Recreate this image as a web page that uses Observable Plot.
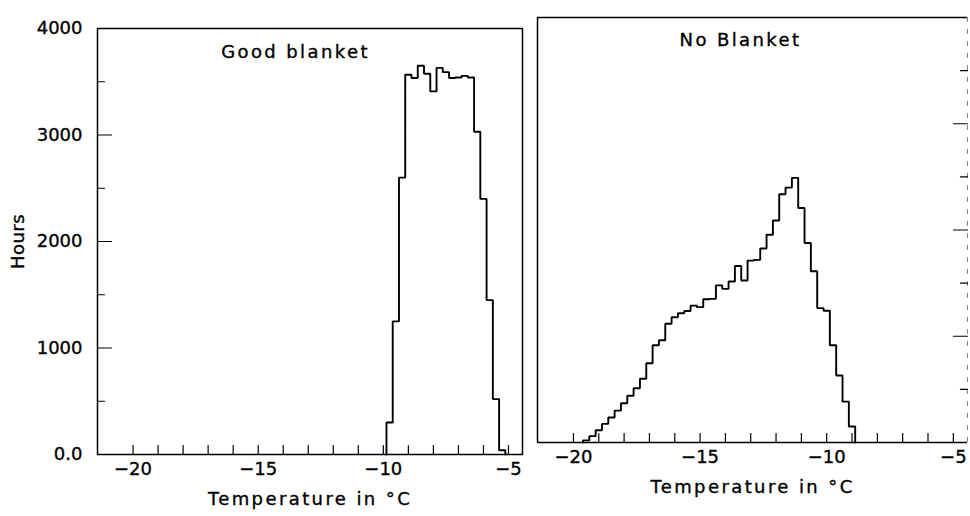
<!DOCTYPE html>
<html>
<head>
<meta charset="utf-8">
<script src="https://cdn.jsdelivr.net/npm/d3@7"></script>
<script src="https://cdn.jsdelivr.net/npm/@observablehq/plot@0.6"></script>
<style>
  html, body { margin: 0; padding: 0; background: #fff; }
  #wrap { position: relative; width: 970px; height: 516px; overflow: hidden; background: #fff; }
  #left, #right { position: absolute; top: 0; }
  #left { left: 0; }
  #right { left: 530px; }
</style>
</head>
<body>
<div id="wrap"><div id="left"></div><div id="right"></div></div>
<script>
// ---- data (bin centres in °C, bin width 0.25 °C, hours per bin) ----
const binWidth = 0.25;

const goodTitle = "Good blanket";
const goodCenters = [-9.75, -9.5, -9.25, -9.0, -8.75, -8.5, -8.25, -8.0, -7.75, -7.5,
                     -7.25, -7.0, -6.75, -6.5, -6.25, -6.0, -5.75, -5.5, -5.25];
const goodHours   = [300, 1250, 2600, 3566, 3535, 3650, 3575, 3410, 3630, 3590,
                     3535, 3540, 3555, 3540, 3030, 2400, 1450, 520, 40];

const noTitle = "No Blanket";
const noCenters = [-19.5, -19.25, -19.0, -18.75, -18.5, -18.25, -18.0, -17.75, -17.5, -17.25,
                   -17.0, -16.75, -16.5, -16.25, -16.0, -15.75, -15.5, -15.25, -15.0, -14.75,
                   -14.5, -14.25, -14.0, -13.75, -13.5, -13.25, -13.0, -12.75, -12.5, -12.25,
                   -12.0, -11.75, -11.5, -11.25, -11.0, -10.75, -10.5, -10.25, -10.0, -9.75,
                   -9.5, -9.25, -9.0];
const noHours   = [20, 60, 115, 175, 235, 300, 370, 440, 510, 600,
                   746, 916, 963, 1117, 1179, 1217, 1237, 1288, 1274, 1348,
                   1352, 1479, 1446, 1515, 1661, 1525, 1712, 1719, 1826, 1956,
                   2089, 2337, 2399, 2491, 2207, 1877, 1612, 1265, 1240, 915,
                   630, 385, 150];

const xTickMarks  = [-20, -19, -18, -17, -16, -15, -14, -13, -12, -11, -10, -9, -8, -7, -6, -5];
const xTickValues = [-20, -15, -10, -5];
const xTickLabels = ["\u221220", "\u221215", "\u221210", "\u22125"];
const yMajorTicks = [0, 1000, 2000, 3000, 4000];
const yMinorTicks = [500, 1500, 2500, 3500];
const yTickLabels = ["0.0", "1000", "2000", "3000", "4000"];
const xTitle = "Temperature in \u00B0C";
const yTitle = "Hours";

const xDomain = [-21.42, -4.44];
const yDomain = [0, 4000];

// ---- helpers ----
const FONT = "DejaVu Sans";
const TXT = {fontSize: 18, fill: "black", stroke: "black", strokeWidth: 0.35};
const tickShape = { draw(ctx, l) { ctx.moveTo(0, 0); ctx.lineTo(0, -l); } };

function stepOutline(centers, hours) {
  const pts = [{x: centers[0] - binWidth / 2, y: 0}];
  centers.forEach((c, i) => {
    pts.push({x: c - binWidth / 2, y: hours[i]});
    pts.push({x: c + binWidth / 2, y: hours[i]});
  });
  pts.push({x: centers[centers.length - 1] + binWidth / 2, y: 0});
  return pts;
}

function panel({centers, hours, title, titleDx, titleDy, width, height, margins, side}) {
  const xLab = xTickValues.map((v, i) => ({v, label: xTickLabels[i]}));
  const yLab = yMajorTicks.map((v, i) => ({v, label: yTickLabels[i]}));
  const yAnchor = side === "left" ? "left" : "right";
  const yRot = side === "left" ? 90 : -90;
  const frameMarks = side === "left"
    ? [Plot.frame({stroke: "black", strokeWidth: 1.5})]
    : [
        Plot.ruleX([xDomain[0]], {stroke: "black", strokeWidth: 1.5}),
        Plot.ruleY([yDomain[0]], {stroke: "black", strokeWidth: 1.5}),
        Plot.ruleY([yDomain[1]], {stroke: "black", strokeWidth: 1.3}),
        Plot.ruleX([xDomain[1]], {stroke: "#888", strokeWidth: 1, strokeDasharray: "5,7"})
      ];
  const marks = [
    ...frameMarks,
    Plot.vector(xTickMarks, {x: d => d, frameAnchor: "bottom", length: 9, rotate: 0,
      anchor: "start", shape: tickShape, stroke: "black", strokeWidth: 1.2}),
    Plot.vector(yMajorTicks.slice(1, 4), {y: d => d, frameAnchor: yAnchor, length: 14, rotate: yRot,
      anchor: "start", shape: tickShape, stroke: "black", strokeWidth: 1.2}),
    Plot.vector(yMinorTicks, {y: d => d, frameAnchor: yAnchor, length: 7, rotate: yRot,
      anchor: "start", shape: tickShape, stroke: "black", strokeWidth: 1.2}),
    Plot.text(xLab, {x: "v", text: "label", frameAnchor: "bottom", lineAnchor: "middle",
      dy: 15, ...TXT}),
    Plot.text([xTitle], {text: d => d, frameAnchor: "bottom", lineAnchor: "middle",
      dy: 45, ...TXT}),
    Plot.text([title], {text: d => d, frameAnchor: "top-left", textAnchor: "middle",
      lineAnchor: "middle", dx: titleDx, dy: titleDy, ...TXT}),
    Plot.line(stepOutline(centers, hours), {x: "x", y: "y", stroke: "black", strokeWidth: 1.9,
      strokeLinejoin: "miter"})
  ];
  if (side === "left") {
    marks.push(
      Plot.text(yLab, {y: "v", text: "label", frameAnchor: "left", textAnchor: "end",
        lineAnchor: "middle", dx: -15, ...TXT}),
      Plot.text([yTitle], {text: d => d, y: () => 2000, frameAnchor: "left", rotate: -90,
        textAnchor: "middle", lineAnchor: "middle", dx: -79, ...TXT})
    );
  }
  const svg = Plot.plot({
    width, height,
    marginTop: margins[0], marginRight: margins[1], marginBottom: margins[2], marginLeft: margins[3],
    x: {domain: xDomain, axis: null},
    y: {domain: yDomain, axis: null},
    style: {fontFamily: FONT, fontSize: "18px", color: "black", background: "white", overflow: "visible"},
    marks
  });
  // wider tracking for the titles, as in the original lettering
  d3.select(svg).selectAll("text").each(function () {
    const t = this.textContent;
    if (t === title || t === xTitle) this.setAttribute("letter-spacing", "2.4");
    if (t === yTitle) this.setAttribute("letter-spacing", "0.5");
  });
  return svg;
}

document.getElementById("left").appendChild(panel({
  centers: goodCenters, hours: goodHours, title: goodTitle, titleDx: 198, titleDy: 24,
  width: 530, height: 516, margins: [28, 8, 62, 97], side: "left"
}));

document.getElementById("right").appendChild(panel({
  centers: noCenters, hours: noHours, title: noTitle, titleDx: 203, titleDy: 23,
  width: 440, height: 516, margins: [17, 3, 74, 7], side: "right"
}));
</script>
</body>
</html>
